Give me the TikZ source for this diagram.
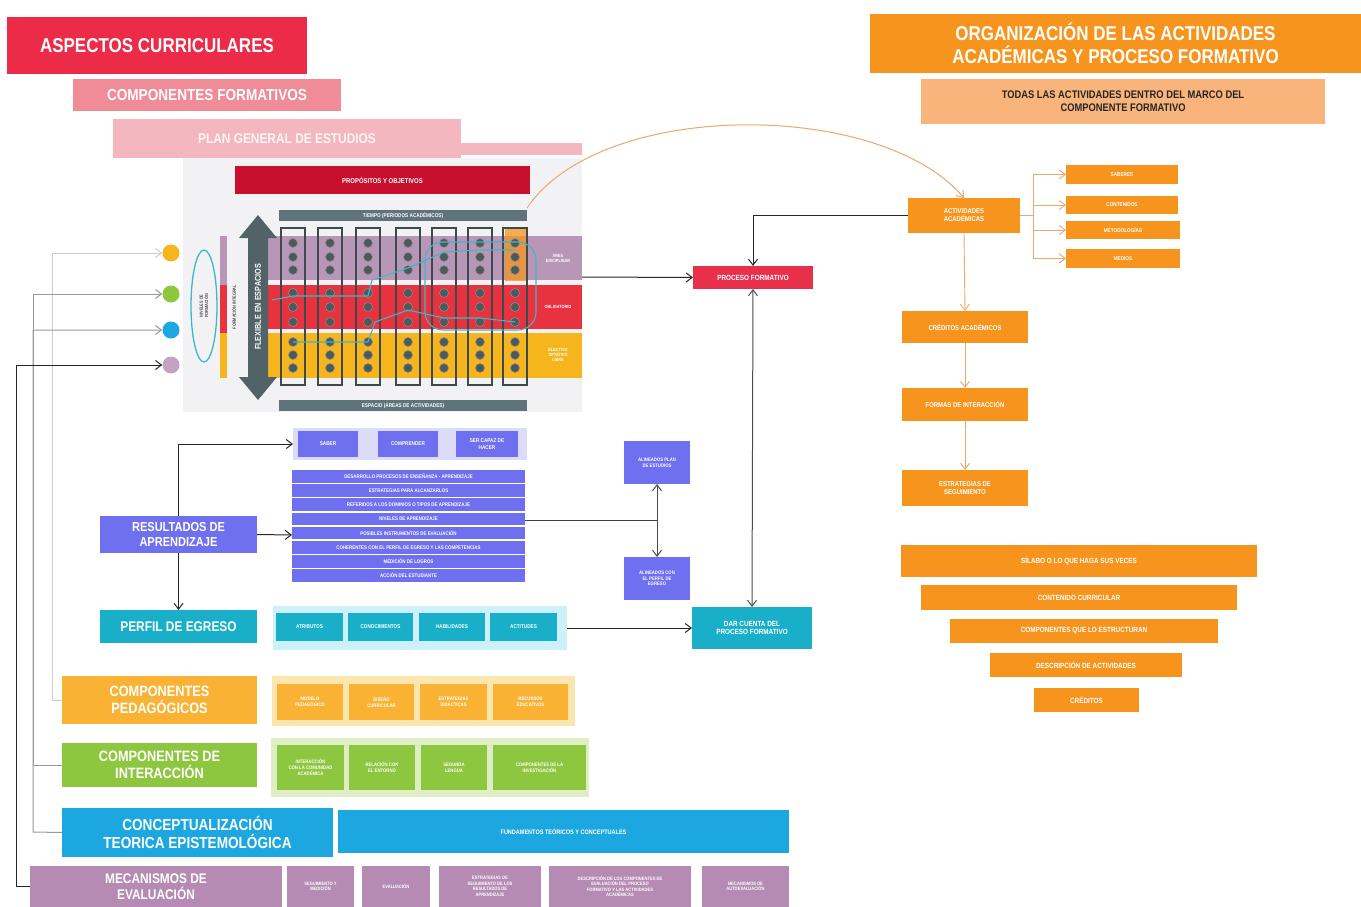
\documentclass[tikz,border=0pt]{standalone}
\usepackage{fontspec}
\setmainfont{Liberation Sans}[FakeStretch=0.85]
\usetikzlibrary{arrows.meta}
\definecolor{redH}{HTML}{EC2B48}
\definecolor{pinkA}{HTML}{EF8C98}
\definecolor{pinkB}{HTML}{F5B7BF}
\definecolor{darkred}{HTML}{C8102E}
\definecolor{grayBar}{HTML}{5F7478}
\definecolor{bandP}{HTML}{B896B8}
\definecolor{bandR}{HTML}{E8323F}
\definecolor{bandY}{HTML}{F6B51D}
\definecolor{orng}{HTML}{F7941D}
\definecolor{lorng}{HTML}{F9B47C}
\definecolor{pbox}{HTML}{6F70EF}
\definecolor{lav}{HTML}{DCDCF8}
\definecolor{teal}{HTML}{1AAFC8}
\definecolor{lcyan}{HTML}{CDF1F8}
\definecolor{ped}{HTML}{F9B233}
\definecolor{lped}{HTML}{FCE6B0}
\definecolor{grn}{HTML}{8DC63F}
\definecolor{lgrn}{HTML}{E0EEC6}
\definecolor{blu}{HTML}{1CA7E0}
\definecolor{mauve}{HTML}{B58BB3}
\definecolor{procR}{HTML}{E8304A}
\definecolor{gridbg}{HTML}{F2F2F5}
\definecolor{dotc}{HTML}{4D5A5C}
\definecolor{colc}{HTML}{3D4A4C}
\definecolor{cyl}{HTML}{3DB8C4}
\definecolor{tan}{HTML}{E8A870}
\newcommand\bx[7]{\node[box,#6,anchor=north west,minimum width={(#4)-(#2)},minimum height={(#5)-(#3)}] (#1) at (#2,#3) {#7};}
\begin{document}
\begin{tikzpicture}[x=1pt,y=-1pt,
  box/.style={draw=none,inner sep=1pt,outer sep=0pt,align=center,text=white,font=\bfseries},
  sz/.style={font=\bfseries\fontsize{#1}{\dimexpr #1pt*115/100\relax}\selectfont},
  arr/.style={draw=black!85,line width=1pt,-{Straight Barb[length=6pt,width=9pt]}},
  arr2/.style={draw=black!70,line width=1pt,{Straight Barb[length=6pt,width=9pt]}-{Straight Barb[length=6pt,width=9pt]}},
  oarr/.style={draw=tan,line width=0.9pt,-{Straight Barb[length=6pt,width=9pt]}},
  garr/.style={draw=black!40,line width=1pt,-{Straight Barb[length=6pt,width=9pt]}},
  larr/.style={draw=black!20,line width=1pt,-{Straight Barb[length=6pt,width=9pt]}},
  dot/.style={circle,fill=dotc,draw=black!45,line width=0.6pt,minimum size=9pt,inner sep=0pt}
]
\useasboundingbox (0,0) rectangle (1361,907);
\fill[white] (0,0) rectangle (1361,907);

% ---------- top-left headers
\bx{asp}{7}{17}{307}{74}{fill=redH,sz=20}{ASPECTOS CURRICULARES}
\bx{comp}{73}{79}{341}{111}{fill=pinkA,sz=16}{COMPONENTES FORMATIVOS}
\fill[pinkB] (461,143) rectangle (582,155);
\bx{plan}{113}{119}{461}{158}{fill=pinkB,sz=14,text=white!92!pinkA}{PLAN GENERAL DE ESTUDIOS}

% ---------- grid
\fill[gridbg] (183,158) rectangle (582,412);
\bx{prop}{235}{166}{530}{194}{fill=darkred,sz=7}{PROPÓSITOS Y OBJETIVOS}
\bx{tiempo}{279}{210}{527}{221}{fill=grayBar,sz=5.5}{TIEMPO (PERIODOS ACADÉMICOS)}
\bx{espacio}{279}{400}{527}{411}{fill=grayBar,sz=5.5}{ESPACIO (ÁREAS DE ACTIVIDADES)}
\fill[bandP] (268,236) rectangle (582,280);
\fill[bandR] (268,285) rectangle (582,329);
\fill[bandY] (268,333) rectangle (582,378);
\node[box,sz=4.5] (lbP) at (558,258) {ÁREA\\DISCIPLINAR};
\node[box,sz=4.5] (lbR) at (558,307) {OBLIGATORIO};
\node[box,sz=4.5] (lbY) at (558,355) {ELECTIVO\\OPTATIVO\\LIBRE};
\fill[bandP] (220,236) rectangle (227,285);
\fill[bandR] (220,285) rectangle (227,333);
\fill[bandY] (220,333) rectangle (227,378);
\node[box,text=black!70,sz=4.5,rotate=90] (fint) at (234,307) {FORMACIÓN INTEGRAL};
\draw[cyl,line width=1.3pt] (204,306) ellipse (13 and 56);
\node[box,text=black!70,sz=4.5,rotate=90] (nivel) at (204,306) {NIVELES DE\\FORMACIÓN};
\fill[orng,opacity=0.75] (505,229) rectangle (527,281);
% columns and dots
\foreach \cx in {293,330,368,408,444,480,515}{
  \draw[colc,line width=1.1pt] (\cx-12,228) rectangle (\cx+12,385);
  \foreach \cy in {243,257,270,293,307,322,342,355,368}
    \node[dot] at (\cx,\cy) {};
}
% cyan paths
\draw[cyl,line width=1.1pt] (272,300) -- (293,296) -- (330,296) -- (368,296) -- (372,280) -- (408,268) -- (444,252) -- (480,250) -- (515,250);
\draw[cyl,line width=1.1pt] (293,342) -- (330,342) -- (368,342) -- (375,322) -- (408,310) -- (444,318) -- (480,318) -- (515,322);
\draw[cyl,line width=1.1pt,rounded corners=18pt] (425,242) rectangle (536,330);
% double arrow
\fill[grayBar!85!black] (258,215) -- (277,238) -- (268,238) -- (268,377) -- (277,377) -- (258,400) -- (239,377) -- (248,377) -- (248,238) -- (239,238) -- cycle;
\node[box,sz=8.5,rotate=90] (flex) at (258,307) {FLEXIBLE EN ESPACIOS};
\coordinate (gridR) at (582,277);
\coordinate (gridT) at (527,208);

% ---------- left circles
\node[circle,fill=bandY,minimum size=17pt,inner sep=0pt] (cy) at (171,253) {};
\node[circle,fill=grn,minimum size=17pt,inner sep=0pt] (cg) at (171,294) {};
\node[circle,fill=blu,minimum size=17pt,inner sep=0pt] (cb) at (171,330) {};
\node[circle,fill=mauve!80,minimum size=17pt,inner sep=0pt] (cm) at (171,365) {};

% ---------- process
\bx{proc}{693}{266}{813}{289}{fill=procR,sz=7.5}{PROCESO FORMATIVO}
\bx{dar}{692}{607}{812}{649}{fill=teal,sz=7.5}{DAR CUENTA DEL\\PROCESO FORMATIVO}

% ---------- resultados
\bx{res}{100}{516}{257}{553}{fill=pbox,sz=13}{RESULTADOS DE\\APRENDIZAJE}
\fill[lav] (293,428) rectangle (527,460);
\coordinate (saberW) at (293,444);
\bx{saber}{298}{431}{358}{457}{fill=pbox,sz=5.5}{SABER}
\bx{compr}{378}{431}{438}{457}{fill=pbox,sz=5.5}{COMPRENDER}
\bx{hacer}{456}{431}{518}{457}{fill=pbox,sz=5.5}{SER CAPAZ DE\\HACER}
\foreach \t [count=\i] in {DESARROLLO PROCESOS DE ENSEÑANZA - APRENDIZAJE,ESTRATEGIAS PARA ALCANZARLOS,REFERIDOS A LOS DOMINIOS O TIPOS DE APRENDIZAJE,NIVELES DE APRENDIZAJE,POSIBLES INSTRUMENTOS DE EVALUACIÓN,COHERENTES CON EL PERFIL DE EGRESO Y LAS COMPETENCIAS,MEDICIÓN DE LOGROS,ACCIÓN DEL ESTUDIANTE}{
  \pgfmathsetmacro\ya{470+(\i-1)*14.2}
  \pgfmathsetmacro\yb{\ya+12.6}
  \bx{L\i}{292}{\ya}{525}{\yb}{fill=pbox,sz=5.2}{\t}
}
\coordinate (listW) at (292,535);
\coordinate (listE) at (525,520);
\coordinate (listJ) at (657,520);
\bx{al1}{624}{441}{690}{484}{fill=pbox,sz=5}{ALINEADOS PLAN\\DE ESTUDIOS}
\bx{al2}{624}{557}{690}{600}{fill=pbox,sz=5}{ALINEADOS CON\\EL PERFIL DE\\EGRESO}

% ---------- perfil
\bx{perf}{100}{610}{257}{643}{fill=teal,sz=14}{PERFIL DE EGRESO}
\fill[lcyan] (273,606) rectangle (567,650);
\coordinate (perfE) at (567,628);
\bx{p1}{276}{613}{343}{641}{fill=teal,sz=5.5}{ATRIBUTOS}
\bx{p2}{348}{613}{413}{641}{fill=teal,sz=5.5}{CONOCIMIENTOS}
\bx{p3}{419}{613}{485}{641}{fill=teal,sz=5.5}{HABILIDADES}
\bx{p4}{490}{613}{557}{641}{fill=teal,sz=5.5}{ACTITUDES}

% ---------- pedagogicos
\bx{ped}{62}{676}{257}{724}{fill=ped,sz=15}{COMPONENTES\\PEDAGÓGICOS}
\fill[lped] (272,676) rectangle (575,726);
\bx{q1}{277}{684}{343}{720}{fill=ped,sz=5}{MODELO\\PEDAGÓGICO}
\bx{q2}{349}{684}{414}{720}{fill=ped,sz=5}{DISEÑO\\CURRICULAR}
\bx{q3}{420}{684}{487}{720}{fill=ped,sz=5}{ESTRATEGIAS\\DIDÁCTICAS}
\bx{q4}{493}{684}{568}{720}{fill=ped,sz=5}{RECURSOS\\EDUCATIVOS}

% ---------- interaccion
\bx{inter}{62}{743}{257}{787}{fill=grn,sz=15}{COMPONENTES DE\\INTERACCIÓN}
\fill[lgrn] (271,738) rectangle (589,797);
\bx{r1}{277}{745}{344}{790}{fill=grn,sz=5}{INTERACCIÓN\\CON LA COMUNIDAD\\ACADÉMICA}
\bx{r2}{349}{745}{415}{790}{fill=grn,sz=5}{RELACIÓN CON\\EL ENTORNO}
\bx{r3}{421}{745}{487}{790}{fill=grn,sz=5}{SEGUNDA\\LENGUA}
\bx{r4}{493}{745}{586}{790}{fill=grn,sz=5}{COMPONENTES DE LA\\INVESTIGACIÓN}

% ---------- conceptualizacion
\bx{conc}{62}{808}{333}{857}{fill=blu,sz=16}{CONCEPTUALIZACIÓN\\TEORICA EPISTEMOLÓGICA}
\bx{fund}{338}{810}{789}{853}{fill=blu,sz=6.5}{FUNDAMENTOS TEÓRICOS Y CONCEPTUALES}

% ---------- mecanismos
\bx{mec}{30}{866}{282}{907}{fill=mauve,sz=14,inner sep=0pt}{MECANISMOS DE\\EVALUACIÓN}
\bx{m1}{287}{866}{354}{907}{fill=mauve,sz=4.8}{SEGUIMIENTO Y\\MEDICIÓN}
\bx{m2}{362}{866}{430}{907}{fill=mauve,sz=4.8}{EVALUACIÓN}
\bx{m3}{439}{866}{541}{907}{fill=mauve,sz=4.8}{ESTRATEGIAS DE\\SEGUIMIENTO DE LOS\\RESULTADOS DE\\APRENDIZAJE}
\bx{m4}{549}{866}{691}{907}{fill=mauve,sz=4.8}{DESCRIPCIÓN DE LOS COMPONENTES DE\\EVALUACIÓN DEL PROCESO\\FORMATIVO Y LAS ACTIVIDADES\\ACADÉMICAS}
\bx{m5}{702}{866}{789}{907}{fill=mauve,sz=4.8}{MECANISMOS DE\\AUTOEVALUACIÓN}

% ---------- right side
\bx{org}{870}{14}{1361}{73}{fill=orng,sz=20}{ORGANIZACIÓN DE LAS ACTIVIDADES\\ACADÉMICAS Y PROCESO FORMATIVO}
\bx{todas}{921}{79}{1325}{124}{fill=lorng,sz=11,text=black!85}{TODAS LAS ACTIVIDADES DENTRO DEL MARCO DEL\\COMPONENTE FORMATIVO}
\bx{act}{908}{198}{1020}{233}{fill=orng,sz=7}{ACTIVIDADES\\ACADÉMICAS}
\bx{s1}{1066}{165}{1178}{184}{fill=orng,sz=5.5}{SABERES}
\bx{s2}{1066}{196}{1178}{214}{fill=orng,sz=5.5}{CONTENIDOS}
\bx{s3}{1066}{221}{1180}{239}{fill=orng,sz=5.5}{METODOLOGÍAS}
\bx{s4}{1066}{249}{1180}{268}{fill=orng,sz=5.5}{MEDIOS}
\bx{cred}{902}{311}{1028}{343}{fill=orng,sz=7}{CRÉDITOS ACADÉMICOS}
\bx{formas}{902}{388}{1028}{421}{fill=orng,sz=7}{FORMAS DE INTERACCIÓN}
\bx{estr}{902}{470}{1028}{506}{fill=orng,sz=7}{ESTRATEGIAS DE\\SEGUIMIENTO}
\bx{y1}{901}{545}{1257}{577}{fill=orng,sz=7.5}{SÍLABO O LO QUE HAGA SUS VECES}
\bx{y2}{921}{585}{1237}{610}{fill=orng,sz=7.5}{CONTENIDO CURRICULAR}
\bx{y3}{950}{619}{1218}{643}{fill=orng,sz=7.5}{COMPONENTES QUE LO ESTRUCTURAN}
\bx{y4}{990}{653}{1182}{677}{fill=orng,sz=7.5}{DESCRIPCIÓN DE ACTIVIDADES}
\bx{y5}{1034}{688}{1139}{712}{fill=orng,sz=7.5}{CRÉDITOS}

% ---------- connectors
\draw[tan,line width=1pt,-{Straight Barb[length=6pt,width=9pt]}] (gridT) .. controls (600,99) and (880,99) .. (act.north);
\draw[arr] (gridR) -- (proc.west);
\draw[arr] (act.west) -| (proc.north);
\draw[arr2] (proc.south) -- (dar.north);
\draw[arr] (perfE) -- (dar.west);
\draw[arr] (res.north) |- (saberW);
\draw[arr] (res.east) -- (listW);
\draw[arr] (res.south) -- (perf.north);
\draw[black!75,line width=1pt] (listE) -- (listJ);
\draw[arr2] (al1.south) -- (al2.north);
\foreach \s in {s1,s2,s3,s4} \draw[oarr] (act.east) -- ++(13,0) |- (\s.west);
\draw[oarr] (act.south) -- (cred.north);
\draw[oarr] (cred.south) -- (formas.north);
\draw[oarr] (formas.south) -- (estr.north);
\draw[larr] (ped.west) -- (52,700) |- (cy.west);
\draw[garr] (inter.west) -- (33,765) |- (cg.west);
\draw[garr] (conc.west) -- (33,832) |- (cb.west);
\draw[arr] (mec.west) -- (16,886.5) |- (cm.west);
\end{tikzpicture}
\end{document}
